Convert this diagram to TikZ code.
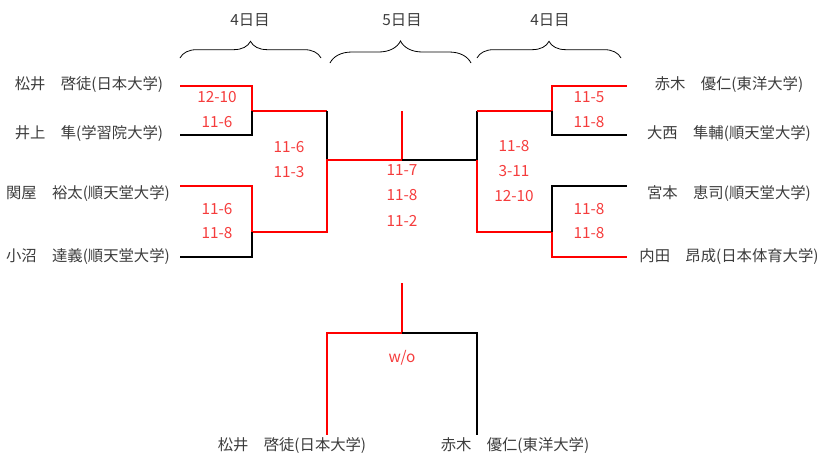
\documentclass[tikz,border=0pt]{standalone}
\usepackage{fontspec}
\setmainfont{Noto Sans CJK JP}
\usetikzlibrary{decorations.pathreplacing}
\definecolor{mred}{RGB}{255,0,0}
\definecolor{mscore}{RGB}{245,60,60}
\definecolor{mgray}{RGB}{60,60,60}

\begin{document}
\begin{tikzpicture}[x=0.75pt,y=-0.75pt]
  \tikzset{win/.style={draw=mred,line width=1.6pt},
    lose/.style={draw=black,line width=1.6pt},
    player/.style={text=mgray,font=\fontsize{11.5}{13}\selectfont},
    score/.style={text=mscore,font=\fontsize{11.5}{13}\selectfont},
    day/.style={text=mgray,font=\fontsize{11.5}{13}\selectfont},
    day brace/.style={draw=black,line width=0.6pt,decorate,decoration={brace,amplitude=#1}}}
  \useasboundingbox (0,0) rectangle (819,454);

  % day labels and braces
  \node[day] (day4a) at (250,20) {4日目};
  \node[day] (day5) at (402,20) {5日目};
  \node[day] (day4b) at (550,20) {4日目};
  \coordinate (ba1) at (180,58); \coordinate (ba2) at (321,58);
  \coordinate (bb1) at (330,63); \coordinate (bb2) at (471,63);
  \coordinate (bc1) at (477,58); \coordinate (bc2) at (621,58);
  \draw[day brace=12.5pt] (ba1) -- (ba2);
  \draw[day brace=16.5pt] (bb1) -- (bb2);
  \draw[day brace=12.5pt] (bc1) -- (bc2);

  % players
  \node[player] (matsui) at (89,85) {松井　啓徒(日本大学)};
  \node[player] (inoue) at (89,134) {井上　隼(学習院大学)};
  \node[player] (sekiya) at (88,194) {関屋　裕太(順天堂大学)};
  \node[player] (konuma) at (88,257) {小沼　達義(順天堂大学)};
  \node[player] (akagi) at (729,85) {赤木　優仁(東洋大学)};
  \node[player] (onishi) at (729,134) {大西　隼輔(順天堂大学)};
  \node[player] (miyamoto) at (729,194) {宮本　恵司(順天堂大学)};
  \node[player] (uchida) at (729,257) {内田　昂成(日本体育大学)};

  % bracket points
  \coordinate (a1) at (180,86); \coordinate (a2) at (180,135);
  \coordinate (a3) at (180,186); \coordinate (a4) at (180,257);
  \coordinate (b1) at (627,86); \coordinate (b2) at (627,135);
  \coordinate (b3) at (627,186); \coordinate (b4) at (627,257);
  \coordinate (j1) at (252,111); \coordinate (j2) at (252,232);
  \coordinate (k1) at (552,111); \coordinate (k2) at (552,232);
  \coordinate (s1) at (327,160); \coordinate (s2) at (477,160);
  \coordinate (f) at (402,160); \coordinate (top) at (402,111);

  \draw[win] (a1) -| (j1) -- (j1 -| s1);
  \draw[lose] (a2) -| (j1);
  \draw[lose] (j1 -| s1) -- (s1);
  \draw[win] (a3) -| (j2) -- (j2 -| s1) -- (s1) -- (f) -- (top);
  \draw[lose] (a4) -| (j2);
  \draw[lose] (f) -- (s2) -- (k1 -| s2);
  \draw[win] (k1 -| s2) -- (k1) |- (b1);
  \draw[lose] (k1) |- (b2);
  \draw[win] (s2) -- (k2 -| s2) -- (k2) |- (b4);
  \draw[lose] (k2) |- (b3);

  % scores
  \node[score] (sc1) at (217,97) {12-10};
  \node[score] (sc2) at (217,122) {11-6};
  \node[score] (sc3) at (289,147) {11-6};
  \node[score] (sc4) at (289,172) {11-3};
  \node[score] (sc5) at (217,209) {11-6};
  \node[score] (sc6) at (217,233) {11-8};
  \node[score] (sc7) at (402,170) {11-7};
  \node[score] (sc8) at (402,195) {11-8};
  \node[score] (sc9) at (402,221) {11-2};
  \node[score] (sc10) at (514,146) {11-8};
  \node[score] (sc11) at (514,171) {3-11};
  \node[score] (sc12) at (514,196) {12-10};
  \node[score] (sc13) at (589,97) {11-5};
  \node[score] (sc14) at (589,122) {11-8};
  \node[score] (sc15) at (589,209) {11-8};
  \node[score] (sc16) at (589,233) {11-8};

  % final
  \node[player] (fin1) at (292,446) {松井　啓徒(日本大学)};
  \node[player] (fin2) at (515,446) {赤木　優仁(東洋大学)};
  \coordinate (ft) at (402,283); \coordinate (fj) at (402,333);
  \coordinate (fl) at (327,435); \coordinate (fr) at (477,435);
  \draw[win] (ft) -- (fj) -| (fl);
  \draw[lose] (fj) -| (fr);
  \node[score] (wo) at (402,358) {w/o};
\end{tikzpicture}
\end{document}
